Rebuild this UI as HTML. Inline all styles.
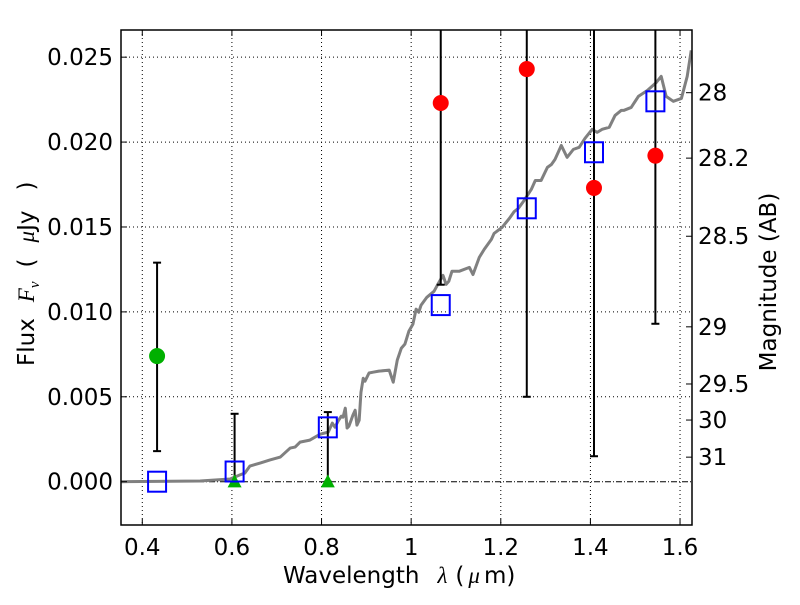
<!DOCTYPE html>
<html><head><meta charset="utf-8"><style>
body{margin:0;background:#fff}
svg text{font-family:"DejaVu Sans","Liberation Sans",sans-serif;fill:#000}
</style></head><body>
<svg id="chart" width="800" height="600" xmlns="http://www.w3.org/2000/svg">
<defs><clipPath id="clip"><rect x="121" y="30" width="571" height="495"/></clipPath></defs>
<g id="grid"></g>
<g id="marks" clip-path="url(#clip)"></g>
<rect x="121" y="30" width="571" height="495" fill="none" stroke="#000" stroke-width="1.5"/>
<g id="axes"></g>
<text x="283" y="583" font-size="23">Wavelength<tspan dx="18" font-family="Liberation Serif" font-style="italic">λ</tspan><tspan dx="8">(</tspan><tspan dx="4" font-family="Liberation Serif" font-style="italic">μ</tspan><tspan dx="4">m)</tspan></text>
<text transform="translate(34,366) rotate(-90)" font-size="23">Flux<tspan dx="16" font-family="Liberation Serif" font-style="italic">F</tspan><tspan font-family="Liberation Serif" font-style="italic" font-size="15" dy="5">ν</tspan><tspan dy="-5" dx="14">(</tspan><tspan dx="16" font-family="Liberation Serif" font-style="italic">μ</tspan>Jy<tspan dx="20">)</tspan></text>
<text transform="translate(776,282) rotate(-90)" font-size="23" text-anchor="middle">Magnitude (AB)</text>
</svg>
<script>
const xTicks=[0.4,0.6,0.8,1.0,1.2,1.4,1.6];
const xTickLabels=["0.4","0.6","0.8","1","1.2","1.4","1.6"];
const yTicks=[0,0.005,0.010,0.015,0.020,0.025];
const yTickLabels=["0.000","0.005","0.010","0.015","0.020","0.025"];
const magTicks=[28,28.2,28.5,29,29.5,30,31];
const magTickLabels=["28","28.2","28.5","29","29.5","30","31"];
const specWave=[0.353,0.529,0.596,0.618,0.629,0.64,0.663,0.685,0.708,0.73,0.741,0.752,0.774,0.797,0.815,0.824,0.83,0.837,0.844,0.848,0.853,0.857,0.861,0.866,0.87,0.875,0.879,0.884,0.888,0.893,0.897,0.906,0.915,0.928,0.951,0.96,0.969,0.978,0.986,0.995,1.004,1.011,1.017,1.022,1.035,1.051,1.062,1.071,1.078,1.084,1.091,1.107,1.13,1.138,1.152,1.163,1.179,1.185,1.203,1.219,1.23,1.239,1.252,1.268,1.277,1.29,1.304,1.313,1.321,1.335,1.348,1.362,1.375,1.388,1.404,1.415,1.426,1.442,1.455,1.469,1.475,1.491,1.507,1.527,1.547,1.558,1.569,1.585,1.603,1.616,1.625];
const specFlux=[0,0.00004,0.00016,0.0004,0.00051,0.00092,0.0011,0.00128,0.00145,0.00198,0.00204,0.00233,0.00245,0.0028,0.00292,0.00345,0.00321,0.00357,0.00386,0.0038,0.00433,0.00316,0.00327,0.00362,0.00392,0.00421,0.00333,0.00362,0.00527,0.00609,0.00592,0.0064,0.00645,0.00651,0.00657,0.00586,0.00716,0.00786,0.0081,0.00887,0.00928,0.01016,0.00998,0.01039,0.01086,0.01121,0.01174,0.01215,0.01162,0.0118,0.01239,0.01239,0.01262,0.0122,0.01321,0.01368,0.01427,0.01462,0.01498,0.0155,0.01591,0.01609,0.01656,0.01721,0.01774,0.01774,0.01851,0.01868,0.01898,0.01980,0.01910,0.01957,0.01969,0.02022,0.02075,0.02057,0.02075,0.02087,0.02157,0.02187,0.02187,0.02204,0.02269,0.02304,0.02351,0.02387,0.02269,0.02240,0.02257,0.02387,0.02540];
const bandWave=[0.433,0.606,0.814,1.066,1.258,1.408,1.545];
const modelFlux=[0,0.0006,0.0032,0.0104,0.0161,0.0194,0.0224];
const detWave=[0.433];
const detFlux=[0.0074];
const detLo=[0.0018];
const detHi=[0.0129];
const limWave=[0.606,0.814];
const limFlux=[-0.0001,-0.0001];
const limHi=[0.0040,0.0041];
const redWave=[1.066,1.258,1.408,1.545];
const redFlux=[0.0223,0.0243,0.0173,0.0192];
const redLo=[0.0116,0.0050,0.0015,0.0093];
const redHi=[0.04,0.04,0.04,0.04];

const X0=121,X1=692,Y0=30,Y1=525,XMIN=0.3525,XMAX=1.6267,YMIN=-0.00255,YMAX=0.02660;
const sx=v=>X0+(v-XMIN)/(XMAX-XMIN)*(X1-X0);
const sy=v=>Y1-(v-YMIN)/(YMAX-YMIN)*(Y1-Y0);
const magToFlux=m=>Math.pow(10,-0.4*(m-23.9));
const NS="http://www.w3.org/2000/svg";
function mk(parent,tag,attrs){const e=document.createElementNS(NS,tag);for(const k in attrs)e.setAttribute(k,attrs[k]);parent.appendChild(e);return e;}
const grid=document.getElementById('grid'),marks=document.getElementById('marks'),axes=document.getElementById('axes');

xTicks.forEach((t,i)=>{
 const x=sx(t);
 const g=mk(grid,'line',{x1:x,x2:x,y1:Y0,y2:Y1,stroke:'#000','stroke-width':1,'stroke-dasharray':'1,3'});
 
 
 mk(axes,'line',{x1:x,x2:x,y1:Y1,y2:Y1-6,stroke:'#000'});
 mk(axes,'line',{x1:x,x2:x,y1:Y0,y2:Y0+6,stroke:'#000'});
 const t2=mk(axes,'text',{x:x,y:555,'font-size':23,'text-anchor':'middle'});t2.textContent=xTickLabels[i];
 
 
});
yTicks.forEach((t,i)=>{
 const y=sy(t);
 if(t!==0){const g=mk(grid,'line',{x1:X0,x2:X1,y1:y,y2:y,stroke:'#000','stroke-width':1,'stroke-dasharray':'1,3'});
 
 }
 mk(axes,'line',{x1:X0,x2:X0+6,y1:y,y2:y,stroke:'#000'});
 const t2=mk(axes,'text',{x:113,y:y+8,'font-size':23,'text-anchor':'end'});t2.textContent=yTickLabels[i];
 
 
});
magTicks.forEach((m,i)=>{
 const y=sy(magToFlux(m));
 mk(axes,'line',{x1:X1-6,x2:X1,y1:y,y2:y,stroke:'#000'});
 const t2=mk(axes,'text',{x:698,y:y+8,'font-size':23});t2.textContent=magTickLabels[i];
 
 
});
const zl=mk(marks,'line',{x1:X0,x2:X1,y1:sy(0),y2:sy(0),stroke:'#000','stroke-width':1,'stroke-dasharray':'6,2,1,2'});


const sp=mk(marks,'polyline',{points:specWave.map((w,i)=>sx(w)+','+sy(specFlux[i])).join(' '),fill:'none',stroke:'#808080','stroke-width':3,'stroke-linejoin':'round'});


function ebar(w,lo,hi,name){
 const x=sx(w);
 const l=mk(marks,'line',{x1:x,x2:x,y1:sy(lo),y2:sy(hi),stroke:'#000','stroke-width':2});
 
 
 mk(marks,'line',{x1:x-4,x2:x+4,y1:sy(lo),y2:sy(lo),stroke:'#000','stroke-width':2});
 mk(marks,'line',{x1:x-4,x2:x+4,y1:sy(hi),y2:sy(hi),stroke:'#000','stroke-width':2});
}
detWave.forEach((w,i)=>ebar(w,detLo[i],detHi[i],'detection-errorbar'));
limWave.forEach((w,i)=>ebar(w,0,limHi[i],'limit-errorbar'));
redWave.forEach((w,i)=>ebar(w,redLo[i],redHi[i],'nir-errorbar'));
limWave.forEach((w,i)=>{
 const x=sx(w),y=sy(limFlux[i]);
 const p=mk(marks,'polygon',{points:`${x},${y-9} ${x-7},${y+4} ${x+7},${y+4}`,fill:'#00b000'});
 
 
});
detWave.forEach((w,i)=>{
 const c=mk(marks,'circle',{cx:sx(w),cy:sy(detFlux[i]),r:8,fill:'#00b000'});
 
 
});
redWave.forEach((w,i)=>{
 const c=mk(marks,'circle',{cx:sx(w),cy:sy(redFlux[i]),r:8,fill:'#ff0000'});
 
 
});
bandWave.forEach((w,i)=>{
 const r=mk(marks,'rect',{x:sx(w)-9,y:sy(modelFlux[i])-10,width:18,height:20,fill:'none',stroke:'#0000ff','stroke-width':2});
 
 
});
</script>
</body></html>
